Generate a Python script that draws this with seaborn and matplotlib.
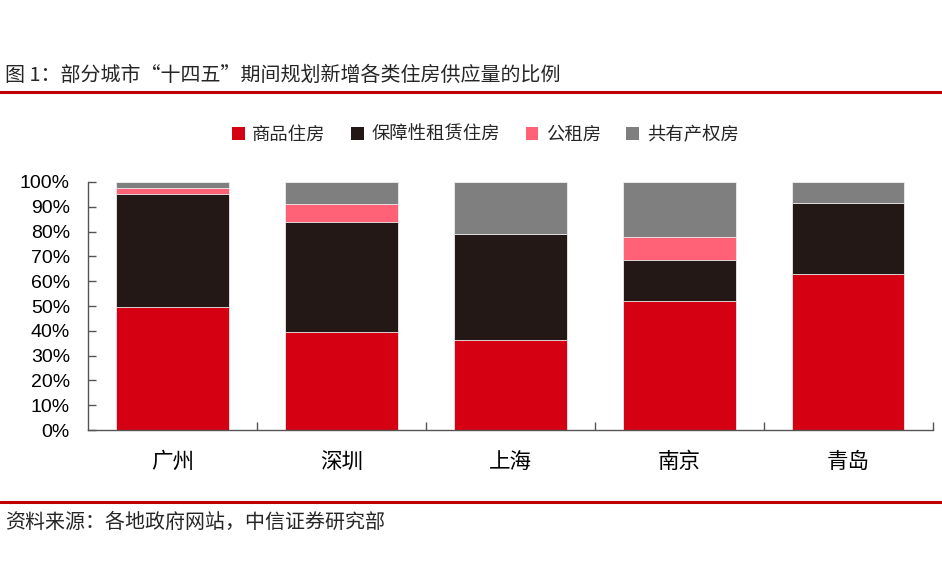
import numpy as np
import pandas as pd
import seaborn as sns
import matplotlib
matplotlib.use('Agg')
import matplotlib.pyplot as plt
from matplotlib.patches import Patch
from matplotlib.lines import Line2D
from matplotlib.ticker import MultipleLocator, PercentFormatter

# data (share of planned new housing, %)
cities = ['广州', '深圳', '上海', '南京', '青岛']
types = ['商品住房', '保障性租赁住房', '公租房', '共有产权房']
commercial = [49.7, 39.4, 36.4, 52.0, 62.8]
affordable_rent = [45.5, 44.6, 42.8, 16.7, 28.5]
public_rent = [2.4, 7.0, 0.0, 9.1, 0.0]
shared_owner = [2.4, 9.0, 20.8, 22.2, 8.7]
colors = ['#D50011', '#231816', '#FF6176', '#7F7F7F']

sns.set_theme(style='white')
plt.rcParams['font.family'] = ['Noto Sans CJK SC', 'DejaVu Sans']

df = pd.DataFrame({'city': cities, types[0]: commercial, types[1]: affordable_rent,
                   types[2]: public_rent, types[3]: shared_owner})
# cumulative tops for stacking
cum = df[types].cumsum(axis=1)

fig = plt.figure(figsize=(9.42, 5.72), dpi=100)
ax = fig.add_axes([0.0934, 0.248, 0.8966, 0.434])

# draw from the top layer down so lower layers cover the upper ones
for t, c in reversed(list(zip(types, colors))):
    sns.barplot(x=df['city'], y=cum[t], color=c, width=0.667, ax=ax,
                saturation=1, linewidth=0.6, edgecolor='#eeeeee')

ax.set_ylim(0, 100)
ax.set_xlim(-0.5, 4.5)
ax.yaxis.set_major_locator(MultipleLocator(10))
ax.yaxis.set_major_formatter(PercentFormatter(decimals=0))
ax.set_xlabel('')
ax.set_ylabel('')
for s in ['top', 'right']:
    ax.spines[s].set_visible(False)
for s in ['left', 'bottom']:
    ax.spines[s].set_color('#555555')
    ax.spines[s].set_linewidth(1.0)

ax.tick_params(axis='y', direction='in', length=6, width=1, color='#555555',
               left=True, labelsize=14, pad=13, labelcolor='black')
ax.tick_params(axis='x', bottom=False, labelsize=15.5, pad=9, labelcolor='black')
for lab in ax.get_yticklabels():
    lab.set_family(['Liberation Sans', 'DejaVu Sans'])
# category separators on the x axis
ax.set_xticks(np.arange(0.5, 5, 1), minor=True)
ax.tick_params(axis='x', which='minor', direction='in', length=6, width=1,
               color='#555555', bottom=True)

handles = [Patch(facecolor=c, edgecolor='none') for c in colors]
fig.legend(handles, types, loc='center', bbox_to_anchor=(0.515, 0.764), ncol=4,
           frameon=False, fontsize=13.2, handlelength=0.7, handleheight=0.7,
           handletextpad=0.4, columnspacing=1.4)

fig.text(0.005, 0.868, '图 1：部分城市“十四五”期间规划新增各类住房供应量的比例',
         fontsize=14.4, va='center', ha='left')
fig.add_artist(Line2D([0, 1], [0.839, 0.839], color='#C00000', lw=2.2))
fig.add_artist(Line2D([0, 1], [0.122, 0.122], color='#C00000', lw=2.2))
fig.text(0.005, 0.087, '资料来源：各地政府网站，中信证券研究部',
         fontsize=14.4, va='center', ha='left')

fig.savefig('out.png', dpi=100)
